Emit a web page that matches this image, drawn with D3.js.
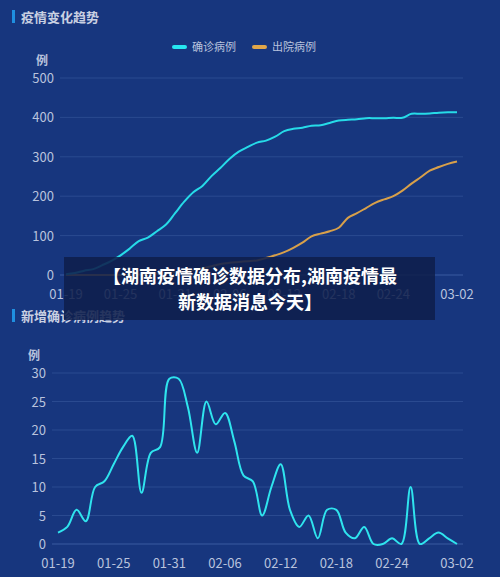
<!DOCTYPE html>
<html><head><meta charset="utf-8">
<script src="https://cdn.jsdelivr.net/npm/d3@7"></script>
<style>body{margin:0;background:#17367e;}svg{display:block;font-family:"Noto Sans CJK SC","Noto Sans",sans-serif;}</style>
</head><body>
<svg id="c" width="500" height="577"></svg>
<script>
const dates = [];
const startDay = new Date(2020,0,19);
for (let i=0;i<44;i++){const d=new Date(startDay);d.setDate(d.getDate()+i);dates.push(String(d.getMonth()+1).padStart(2,"0")+"-"+String(d.getDate()).padStart(2,"0"));}
const daily = [2,3,6,4,10,11,14,17,19,9,16,17,29,29,24,16,25,21,23,18,12,11,5,10,14,6,3,5,1,6,6,2,1,3,0,0,1,0,10,0,1,2,1,0];
const confirmed = [2,5,11,15,25,36,50,67,86,95,111,128,157,186,210,226,251,272,295,313,325,336,341,351,365,371,374,379,380,386,392,394,395,398,398,398,399,399,409,409,410,412,413,413];
const discharged = [0,0,0,0,0,0,0,0,1,2,3,5,7,9,12,17,22,28,31,33,35,37,43,50,58,69,82,98,105,111,120,145,157,170,183,192,200,214,232,248,265,274,282,288];
const topTicks = [0,100,200,300,400,500];
const botTicks = [0,5,10,15,20,25,30];
const labelIdx = [0,6,12,18,24,30,36,43];

const svg = d3.select("#c");
const txt = "#b9c3dd";
function panel(title, ty, y0, y1, x0, x1, dom, ticks, series){
  svg.append("rect").attr("x",12).attr("y",ty-12).attr("width",3).attr("height",13).attr("fill","#1f8fe0");
  svg.append("text").attr("x",21).attr("y",ty).attr("fill","#c9d0e2").attr("font-size",13).attr("font-weight","bold").text(title);
  const x = d3.scaleLinear().domain([0,43]).range([x0,x1]);
  const y = d3.scaleLinear().domain(dom).range([y0,y1]);
  const g = svg.append("g");
  g.selectAll(".gl").data(ticks).join("line").attr("x1",x0-6).attr("x2",x1+6).attr("y1",d=>y(d)).attr("y2",d=>y(d)).attr("stroke",d=>d===0?"#3a5aa0":"#2a4a90").attr("stroke-width",1);
  g.selectAll(".yl").data(ticks).join("text").attr("x",x0-12).attr("y",d=>y(d)+5).attr("text-anchor","end").attr("fill",txt).attr("font-size",13).text(d=>d);
  g.append("text").attr("x",x0-18).attr("y",y(dom[1])-13).attr("text-anchor","end").attr("fill",txt).attr("font-size",12).attr("font-weight","bold").text("例");
  g.selectAll(".xl").data(labelIdx).join("text").attr("x",d=>x(d)).attr("y",y0+24).attr("text-anchor","middle").attr("fill",txt).attr("font-size",13).text(d=>dates[d]);
  const line = d3.line().x((d,i)=>x(i)).y(d=>y(d)).curve(d3.curveCatmullRom.alpha(0.5));
  series.forEach(s=>g.append("path").attr("d",line(s.v)).attr("fill","none").attr("stroke",s.c).attr("stroke-width",2));
}
panel("疫情变化趋势",22,275,78,66,457,[0,500],topTicks,[{v:discharged,c:"#d8a04a"},{v:confirmed,c:"#26dbe8"}]);
panel("新增确诊病例趋势",321,544,373,58,457,[0,30],botTicks,[{v:daily,c:"#2fe4ee"}]);

const legend = [{n:"确诊病例",c:"#26e6f0",x:172},{n:"出院病例",c:"#e0a64a",x:252}];
legend.forEach(l=>{
  svg.append("rect").attr("x",l.x).attr("y",45).attr("width",15).attr("height",4).attr("rx",2).attr("fill",l.c);
  svg.append("text").attr("x",l.x+20).attr("y",51).attr("fill","#b9c3dd").attr("font-size",11).text(l.n);
});

svg.append("rect").attr("x",64).attr("y",257).attr("width",371).attr("height",63).attr("fill","#0f1f4c").attr("opacity",0.88);
svg.append("text").attr("x",250).attr("y",283).attr("text-anchor","middle").attr("fill","#fff").attr("font-size",18).attr("font-weight","bold").text("【湖南疫情确诊数据分布,湖南疫情最");
svg.append("text").attr("x",250).attr("y",309).attr("text-anchor","middle").attr("fill","#fff").attr("font-size",18).attr("font-weight","bold").text("新数据消息今天】");
</script>
</body></html>
